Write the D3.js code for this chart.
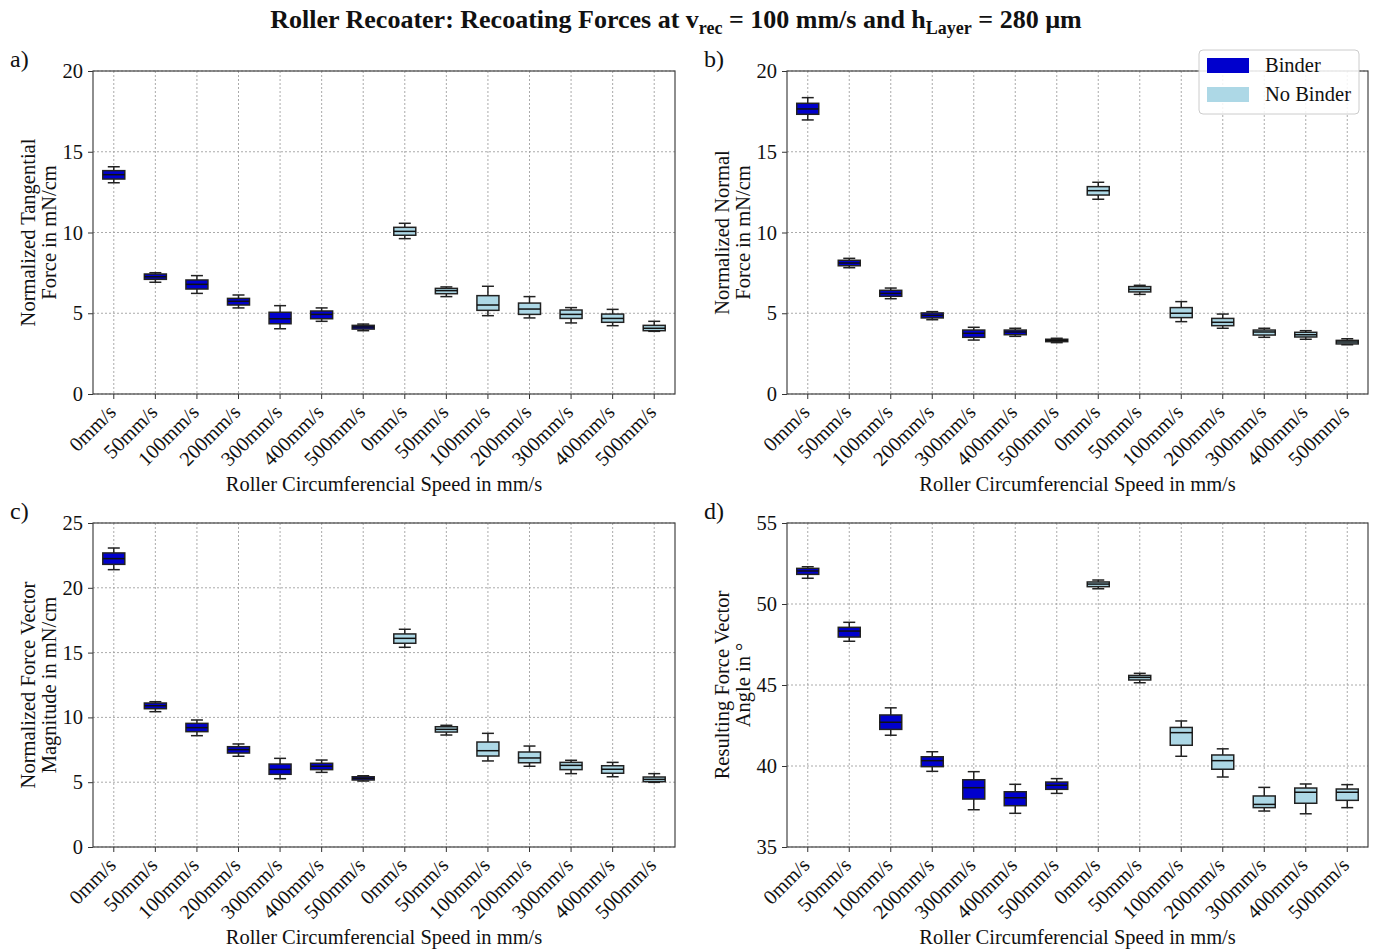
<!DOCTYPE html>
<html>
<head>
<meta charset="utf-8">
<script src="https://cdn.jsdelivr.net/npm/d3@7"></script>
<style>
  body { margin: 0; background: #fff; }
  svg { font-family: "Liberation Serif", "Times New Roman", serif; }
</style>
</head>
<body>
<script>
const width = 1378;
const height = 949;

// Catégories de l'axe x (répétées pour "Binder" puis "No Binder")
const speeds = ["0mm/s", "50mm/s", "100mm/s", "200mm/s", "300mm/s", "400mm/s", "500mm/s"];

// Chaque ligne : [moustache basse, q1, médiane, q3, moustache haute]
const tangentialBinder = [
    [13.08, 13.31, 13.58, 13.83, 14.07],
    [6.92, 7.10, 7.26, 7.43, 7.51],
    [6.23, 6.50, 6.79, 7.06, 7.33],
    [5.33, 5.51, 5.74, 5.92, 6.13],
    [4.04, 4.35, 4.66, 5.06, 5.47],
    [4.50, 4.66, 4.93, 5.14, 5.33],
    [3.92, 4.02, 4.15, 4.25, 4.33]
];
const tangentialNoBinder = [
    [9.62, 9.83, 10.07, 10.32, 10.57],
    [6.03, 6.21, 6.40, 6.54, 6.63],
    [4.85, 5.18, 5.51, 6.09, 6.67],
    [4.71, 4.93, 5.26, 5.63, 6.03],
    [4.40, 4.68, 4.93, 5.20, 5.35],
    [4.23, 4.44, 4.68, 4.95, 5.24],
    [3.88, 3.92, 4.07, 4.25, 4.50]
];
const normalBinder = [
    [16.97, 17.32, 17.65, 18.00, 18.35],
    [7.82, 7.94, 8.11, 8.28, 8.40],
    [5.90, 6.05, 6.23, 6.42, 6.56],
    [4.60, 4.71, 4.87, 5.02, 5.10],
    [3.34, 3.51, 3.76, 3.96, 4.13],
    [3.57, 3.67, 3.84, 3.96, 4.07],
    [3.18, 3.24, 3.32, 3.39, 3.45]
];
const normalNoBinder = [
    [12.06, 12.32, 12.59, 12.84, 13.11],
    [6.17, 6.32, 6.48, 6.65, 6.73],
    [4.48, 4.73, 5.00, 5.35, 5.72],
    [4.07, 4.23, 4.44, 4.68, 4.95],
    [3.51, 3.65, 3.84, 3.96, 4.07],
    [3.39, 3.53, 3.67, 3.82, 3.92],
    [3.05, 3.10, 3.22, 3.32, 3.42]
];
const magnitudeBinder = [
    [21.40, 21.81, 22.25, 22.69, 23.07],
    [10.44, 10.67, 10.90, 11.11, 11.21],
    [8.59, 8.90, 9.21, 9.54, 9.80],
    [7.00, 7.25, 7.51, 7.74, 7.95],
    [5.27, 5.61, 5.99, 6.40, 6.84],
    [5.76, 5.97, 6.23, 6.46, 6.71],
    [5.09, 5.17, 5.30, 5.42, 5.50]
];
const magnitudeNoBinder = [
    [15.41, 15.72, 16.10, 16.44, 16.80],
    [8.64, 8.87, 9.08, 9.28, 9.39],
    [6.64, 7.02, 7.43, 8.10, 8.77],
    [6.23, 6.50, 6.87, 7.33, 7.79],
    [5.66, 5.97, 6.30, 6.53, 6.69],
    [5.42, 5.69, 6.00, 6.27, 6.53],
    [4.99, 5.04, 5.22, 5.40, 5.66]
];
const angleBinder = [
    [51.59, 51.83, 52.04, 52.20, 52.30],
    [47.70, 47.96, 48.33, 48.56, 48.87],
    [41.90, 42.26, 42.70, 43.15, 43.59],
    [39.67, 39.96, 40.33, 40.57, 40.88],
    [37.30, 37.96, 38.66, 39.15, 39.65],
    [37.08, 37.55, 38.04, 38.41, 38.87],
    [38.31, 38.56, 38.81, 39.01, 39.22]
];
const angleNoBinder = [
    [50.94, 51.07, 51.23, 51.36, 51.48],
    [45.14, 45.31, 45.47, 45.59, 45.72],
    [40.60, 41.28, 42.06, 42.38, 42.78],
    [39.32, 39.80, 40.33, 40.68, 41.06],
    [37.22, 37.43, 37.63, 38.15, 38.68],
    [37.05, 37.70, 38.38, 38.64, 38.89],
    [37.43, 37.88, 38.38, 38.58, 38.85]
];

// Ticks des axes y
const ticksForce = [0, 5, 10, 15, 20];
const ticksMagnitude = [0, 5, 10, 15, 20, 25];
const ticksAngle = [35, 40, 45, 50, 55];

const seriesNames = ["Binder", "No Binder"];
const colors = ["#0000cd", "#add8e6"];

const panels = [
    { letter: "a)", x: 93, y: 71, w: 582, h: 323, domain: [0, 20], ticks: ticksForce,
      label: ["Normalized Tangential", "Force in mN/cm"], binder: tangentialBinder, noBinder: tangentialNoBinder },
    { letter: "b)", x: 787, y: 71, w: 581, h: 323, domain: [0, 20], ticks: ticksForce,
      label: ["Normalized Normal", "Force in mN/cm"], binder: normalBinder, noBinder: normalNoBinder },
    { letter: "c)", x: 93, y: 523, w: 582, h: 324, domain: [0, 25], ticks: ticksMagnitude,
      label: ["Normalized Force Vector", "Magnitude in mN/cm"], binder: magnitudeBinder, noBinder: magnitudeNoBinder },
    { letter: "d)", x: 787, y: 523, w: 581, h: 324, domain: [35, 55], ticks: ticksAngle,
      label: ["Resulting Force Vector", "Angle in °"], binder: angleBinder, noBinder: angleNoBinder }
];

const fontSize = "20.5px";

const svg = d3.select("body")
    .append("svg")
    .attr("width", width)
    .attr("height", height);

// Titre avec indices
const title = svg.append("text")
    .attr("x", 676)
    .attr("y", 28)
    .attr("text-anchor", "middle")
    .attr("font-size", "26px")
    .attr("font-weight", "bold")
    .attr("fill", "#111");
title.append("tspan").text("Roller Recoater: Recoating Forces at v");
title.append("tspan").attr("font-size", "18px").attr("dy", 6).text("rec");
title.append("tspan").attr("dy", -6).text(" = 100 mm/s and h");
title.append("tspan").attr("font-size", "18px").attr("dy", 6).text("Layer");
title.append("tspan").attr("dy", -6).text(" = 280 µm");

const labels = speeds.concat(speeds);

panels.forEach(p => {
    const g = svg.append("g").attr("transform", `translate(${p.x},${p.y})`);

    const x = d3.scaleBand()
        .domain(d3.range(labels.length))
        .range([0, p.w]);
    const y = d3.scaleLinear()
        .domain(p.domain)
        .range([p.h, 0]);

    // Grille pointillée
    g.append("g").selectAll("line")
        .data(p.ticks)
        .enter().append("line")
        .attr("x1", 0).attr("x2", p.w)
        .attr("y1", d => y(d)).attr("y2", d => y(d))
        .attr("stroke", "#a0a0a0").attr("stroke-width", 0.9)
        .attr("stroke-dasharray", "2,2");
    g.append("g").selectAll("line")
        .data(d3.range(labels.length))
        .enter().append("line")
        .attr("x1", d => x(d) + x.bandwidth() / 2).attr("x2", d => x(d) + x.bandwidth() / 2)
        .attr("y1", 0).attr("y2", p.h)
        .attr("stroke", "#a0a0a0").attr("stroke-width", 0.9)
        .attr("stroke-dasharray", "2,2");

    // Axe y
    const yAxis = g.append("g")
        .call(d3.axisLeft(y).tickValues(p.ticks).tickSize(5).tickPadding(5));
    yAxis.select(".domain").remove();
    yAxis.selectAll("line").attr("stroke", "#333");
    yAxis.selectAll("text")
        .attr("font-family", "Liberation Serif, serif")
        .attr("font-size", fontSize)
        .attr("fill", "#111");

    // Axe x
    const xAxis = g.append("g")
        .attr("transform", `translate(0,${p.h})`)
        .call(d3.axisBottom(x).tickFormat(i => labels[i]).tickSize(5).tickPadding(4));
    xAxis.select(".domain").remove();
    xAxis.selectAll("line").attr("stroke", "#333");
    xAxis.selectAll("text")
        .attr("font-family", "Liberation Serif, serif")
        .attr("font-size", fontSize)
        .attr("fill", "#111")
        .attr("text-anchor", "end")
        .attr("dy", "0.2em")
        .attr("transform", "translate(-6,10) rotate(-45)");

    // Boîtes à moustaches
    const bw = 22;
    const capW = 12;
    const rows = p.binder.map((v, i) => ({ v, i, c: 0 }))
        .concat(p.noBinder.map((v, i) => ({ v, i: i + speeds.length, c: 1 })));
    const boxes = g.append("g").selectAll("g")
        .data(rows)
        .enter().append("g")
        .attr("transform", d => `translate(${x(d.i) + x.bandwidth() / 2},0)`);

    boxes.append("line")
        .attr("x1", 0).attr("x2", 0)
        .attr("y1", d => y(d.v[0])).attr("y2", d => y(d.v[1]))
        .attr("stroke", "#222").attr("stroke-width", 1.5);
    boxes.append("line")
        .attr("x1", 0).attr("x2", 0)
        .attr("y1", d => y(d.v[3])).attr("y2", d => y(d.v[4]))
        .attr("stroke", "#222").attr("stroke-width", 1.5);
    boxes.append("line")
        .attr("x1", -capW / 2).attr("x2", capW / 2)
        .attr("y1", d => y(d.v[0])).attr("y2", d => y(d.v[0]))
        .attr("stroke", "#222").attr("stroke-width", 1.5);
    boxes.append("line")
        .attr("x1", -capW / 2).attr("x2", capW / 2)
        .attr("y1", d => y(d.v[4])).attr("y2", d => y(d.v[4]))
        .attr("stroke", "#222").attr("stroke-width", 1.5);
    boxes.append("rect")
        .attr("x", -bw / 2)
        .attr("y", d => y(d.v[3]))
        .attr("width", bw)
        .attr("height", d => y(d.v[1]) - y(d.v[3]))
        .attr("fill", d => colors[d.c])
        .attr("stroke", "#222").attr("stroke-width", 1.5);
    boxes.append("line")
        .attr("x1", -bw / 2).attr("x2", bw / 2)
        .attr("y1", d => y(d.v[2])).attr("y2", d => y(d.v[2]))
        .attr("stroke", "#111").attr("stroke-width", 1.5);

    // Cadre
    g.append("rect")
        .attr("width", p.w).attr("height", p.h)
        .attr("fill", "none")
        .attr("stroke", "#444").attr("stroke-width", 1.2);

    // Titre de l'axe y (deux lignes)
    p.label.forEach((t, k) => {
        g.append("text")
            .attr("transform", `translate(${-58 + k * 21},${p.h / 2}) rotate(-90)`)
            .attr("text-anchor", "middle")
            .attr("font-size", fontSize)
            .attr("fill", "#111")
            .text(t);
    });

    // Titre de l'axe x
    g.append("text")
        .attr("x", p.w / 2)
        .attr("y", p.h + 97)
        .attr("text-anchor", "middle")
        .attr("font-size", fontSize)
        .attr("fill", "#111")
        .text("Roller Circumferencial Speed in mm/s");

    // Lettre du panneau
    svg.append("text")
        .attr("x", p.x - 83)
        .attr("y", p.y - 4)
        .attr("font-size", "24px")
        .attr("fill", "#111")
        .text(p.letter);
});

// Légende (panneau b)
const legend = svg.append("g").attr("transform", "translate(1199,50)");
legend.append("rect")
    .attr("width", 160).attr("height", 64)
    .attr("rx", 4)
    .attr("fill", "#fff").attr("fill-opacity", 0.85)
    .attr("stroke", "#ccc");
seriesNames.forEach((name, i) => {
    legend.append("rect")
        .attr("x", 8).attr("y", 8 + i * 29)
        .attr("width", 42).attr("height", 15)
        .attr("fill", colors[i]);
    legend.append("text")
        .attr("x", 66).attr("y", 22 + i * 29)
        .attr("font-size", fontSize)
        .attr("fill", "#111")
        .text(name);
});
</script>
</body>
</html>
